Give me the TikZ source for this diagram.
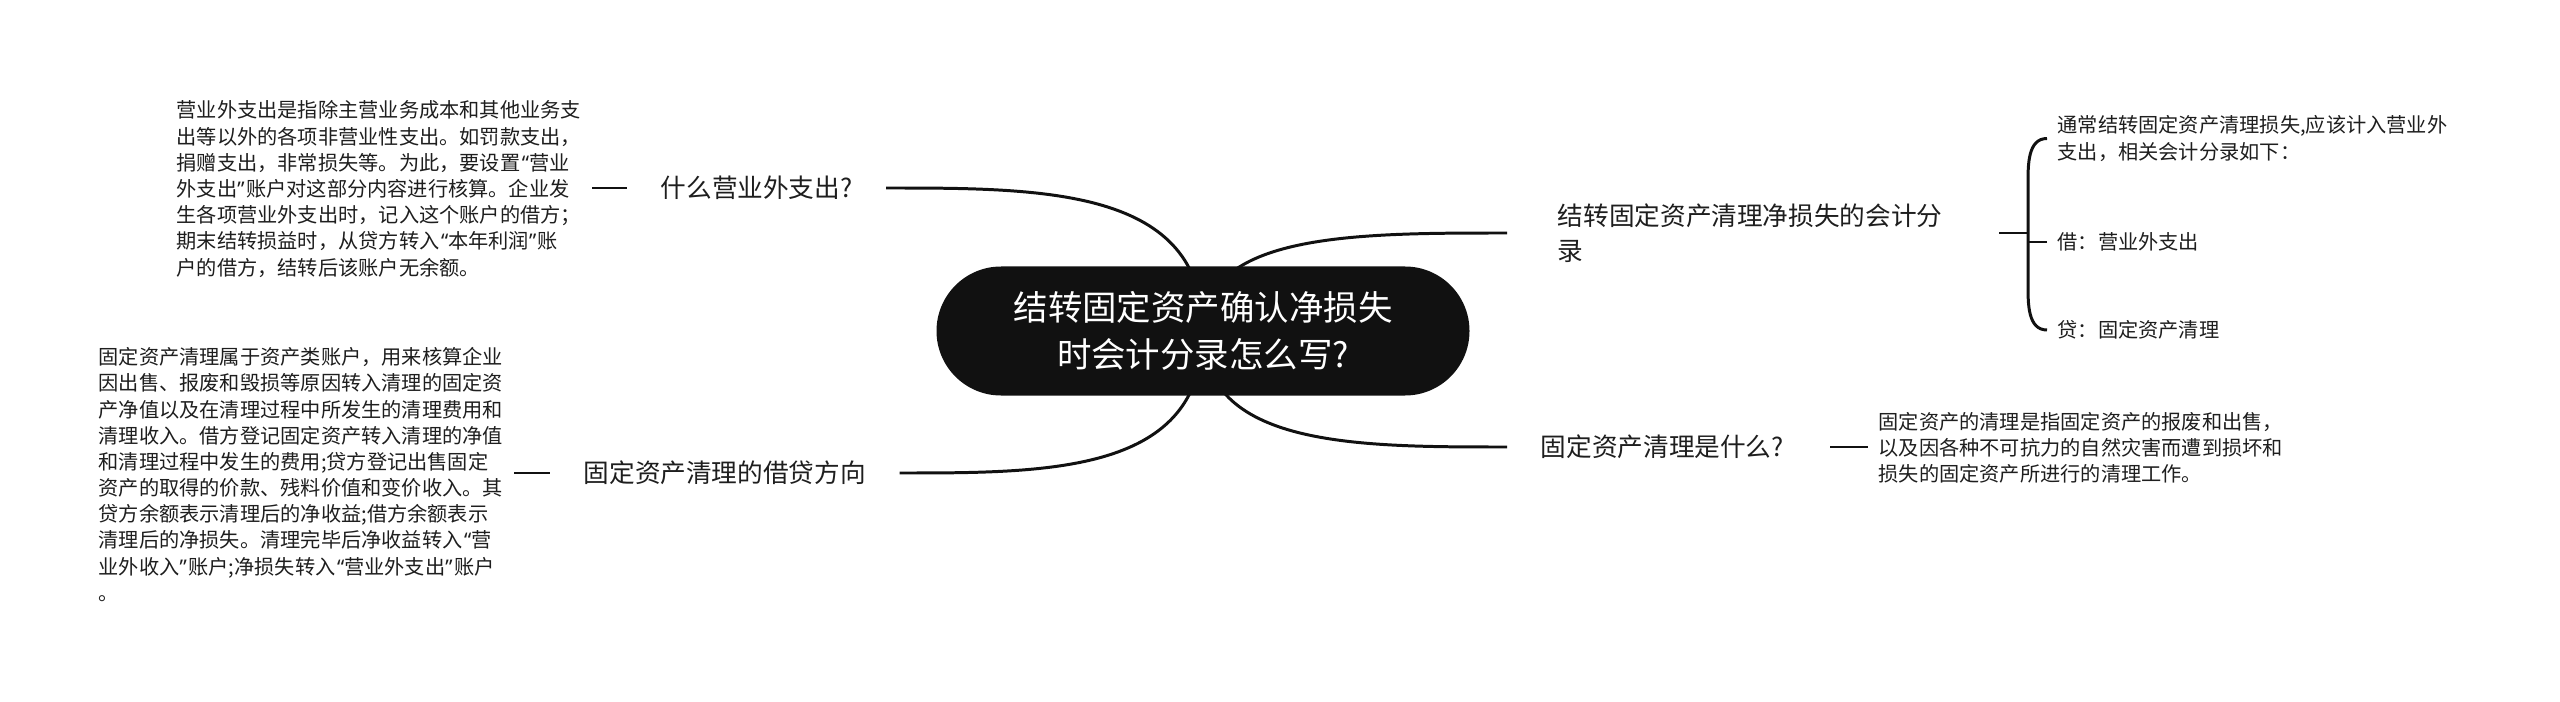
\documentclass[tikz,border=0pt]{standalone}
\usepackage{fontspec}
\usepackage{tikz}
\usetikzlibrary{backgrounds, calc}
\newfontfamily\cjkfont{Noto Sans CJK SC}
\newfontfamily\quotefont{Noto Sans}
\newcommand{\cnlq}{{\quotefont\kern0.08em “}}
\newcommand{\cnrq}{{\quotefont ”\kern0.08em}}
\definecolor{topicblack}{RGB}{17,17,17}
\definecolor{textdark}{RGB}{30,30,30}
\definecolor{linedark}{RGB}{17,17,17}

\begin{document}
\begin{tikzpicture}[
    topic/.style={fill=topicblack, text=white, rounded corners=0.645cm, minimum width=5.33cm, minimum height=1.29cm, align=center, font=\cjkfont\fontsize{9.8}{13.4}\selectfont},
    branch/.style={text=textdark, inner xsep=0.33cm, align=left, font=\cjkfont\fontsize{7.3}{9.96}\selectfont},
    note/.style={text=textdark, inner xsep=0.1cm, text width=4.05cm, align=left, font=\cjkfont\fontsize{5.75}{7.45}\selectfont},
    link/.style={draw=linedark, line width=0.85pt}
]
\useasboundingbox (0,0) rectangle (25.6,7.01);

% Central topic
\node[topic] (main) at (12.03,3.70) {结转固定资产确认净损失\\时会计分录怎么写?};

% Left branches
\node[branch, anchor=west] (expense) at (6.27,5.13) {什么营业外支出?};
\node[branch, anchor=west] (direction) at (5.50,2.28) {固定资产清理的借贷方向};

% Right branches
\node[branch, anchor=west, inner xsep=0.5cm] (entry) at (15.07,4.68) {结转固定资产清理净损失的会计分\\录};
\node[branch, anchor=west] (meaning) at (15.07,2.54) {固定资产清理是什么?};

% Notes on the left
\node[note, anchor=west] (expensenote) at (1.66,5.12) {营业外支出是指除主营业务成本和其他业务支\\出等以外的各项非营业性支出。如罚款支出，\\捐赠支出，非常损失等。为此，要设置\cnlq 营业\\外支出\cnrq 账户对这部分内容进行核算。企业发\\生各项营业外支出时，记入这个账户的借方；\\期末结转损益时，从贷方转入\cnlq 本年利润\cnrq 账\\户的借方，结转后该账户无余额。};
\node[note, anchor=west] (directionnote) at (0.88,2.265) {固定资产清理属于资产类账户，用来核算企业\\因出售、报废和毁损等原因转入清理的固定资\\产净值以及在清理过程中所发生的清理费用和\\清理收入。借方登记固定资产转入清理的净值\\和清理过程中发生的费用;贷方登记出售固定\\资产的取得的价款、残料价值和变价收入。其\\贷方余额表示清理后的净收益;借方余额表示\\清理后的净损失。清理完毕后净收益转入\cnlq 营\\业外收入\cnrq 账户;净损失转入\cnlq 营业外支出\cnrq 账户\\。};

% Notes on the right
\node[note, anchor=west] (meaningnote) at (18.68,2.53) {固定资产的清理是指固定资产的报废和出售，\\以及因各种不可抗力的自然灾害而遭到损坏和\\损失的固定资产所进行的清理工作。};
\node[note, anchor=west] (advice) at (20.47,5.625) {通常结转固定资产清理损失,应该计入营业外\\支出，相关会计分录如下：};
\node[note, anchor=west] (debit) at (20.47,4.59) {借：营业外支出};
\node[note, anchor=west] (credit) at (20.47,3.71) {贷：固定资产清理};
\coordinate (brk) at (20.28,4.68);

% Curves behind the central topic
\begin{scope}[on background layer]
\fill[white] (0,0) rectangle (25.6,7.01);
\draw[link] (main.center) .. controls (main.center |- expense.east) and ($(expense.east)!0.5!(main.center |- expense.east)$) .. (expense.east);
\draw[link] (main.center) .. controls (main.center |- direction.east) and ($(direction.east)!0.5!(main.center |- direction.east)$) .. (direction.east);
\draw[link] (main.center) .. controls (main.center |- entry.west) and ($(entry.west)!0.5!(main.center |- entry.west)$) .. (entry.west);
\draw[link] (main.center) .. controls (main.center |- meaning.west) and ($(meaning.west)!0.5!(main.center |- meaning.west)$) .. (meaning.west);
\end{scope}

% Short links to notes
\draw[link] (expensenote.east |- expense.west) -- (expense.west);
\draw[link] (directionnote.east |- direction.west) -- (direction.west);
\draw[link] ($(meaning.east)+(0.13,0)$) -- (meaning.east -| meaningnote.west);
\draw[link] ($(entry.east)+(0.06,0)$) -- (brk);

% Bracket
\draw[link] (advice.west) to[out=180,in=90] ($(advice.west -| brk)+(0,-0.45)$) -- ($(credit.west -| brk)+(0,0.45)$) to[out=-90,in=180] (credit.west);
\draw[link] (debit.west) -- (debit.west -| brk);

\end{tikzpicture}
\end{document}
